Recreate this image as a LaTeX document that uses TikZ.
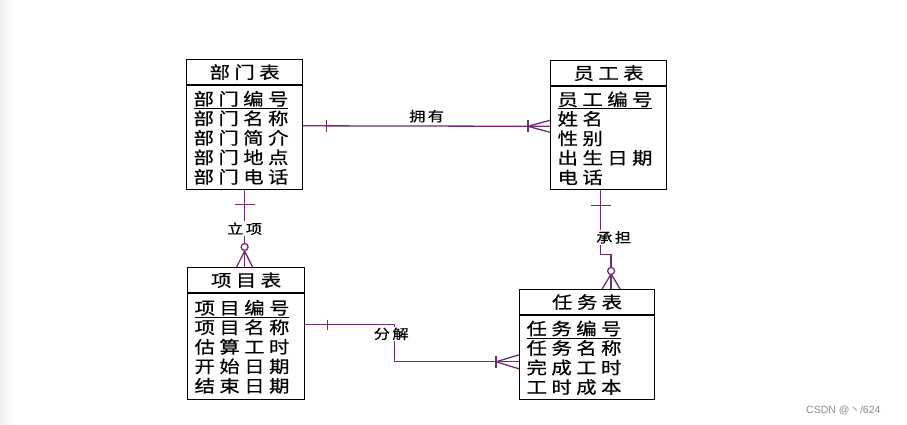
\documentclass[tikz,border=0pt]{standalone}
\usepackage{fontspec}
\setmainfont{Noto Sans CJK SC}
\newfontfamily\tabfont{Noto Sans CJK SC}[FakeStretch=1.2,LetterSpace=26,FakeBold=0.5]
\newfontfamily\labfont{Noto Sans CJK SC}[FakeStretch=1.2,LetterSpace=18,FakeBold=0.5]
\newfontfamily\markfont{Liberation Sans}
\newfontfamily\cjk{Noto Sans CJK SC}
\usetikzlibrary{positioning,calc}
\definecolor{relcol}{RGB}{112,45,112}

\begin{document}
\begin{tikzpicture}[x=1pt,y=-1pt,
	thead/.style={draw,line width=1.2pt,minimum width=#1,minimum height=25pt,inner sep=0pt,font=\tabfont\fontsize{17}{19.5}\selectfont},
	tbody/.style={draw,line width=1.2pt,text width=#1,inner xsep=7pt,align=left,font=\tabfont\fontsize{17}{19.5}\selectfont},
	rel/.style={draw=relcol,line width=1.3pt},
	rlab/.style={fill=white,inner sep=1pt,font=\labfont\fontsize{13.5}{15}\selectfont}]
\useasboundingbox (0,0) rectangle (907,424);
\shade[left color=black!6,right color=white] (0,0) rectangle (14,424);

% tables
\node[thead=116pt,anchor=north west] (dept) at (186,59) {部门表};
\node[tbody=102pt,minimum height=104pt,below=0pt of dept] (deptb) {\underline{部门编号}\\部门名称\\部门简介\\部门地点\\部门电话};
\node[thead=116pt,anchor=north west] (emp) at (550,60) {员工表};
\node[tbody=102pt,minimum height=103pt,below=0pt of emp] (empb) {\underline{员工编号}\\姓名\\性别\\出生日期\\电话};
\node[thead=117pt,anchor=north west] (proj) at (187,267) {项目表};
\node[tbody=103pt,minimum height=106pt,below=0pt of proj] (projb) {\underline{项目编号}\\项目名称\\估算工时\\开始日期\\结束日期};
\node[thead=135pt,anchor=north west] (task) at (519,289) {任务表};
\node[tbody=121pt,minimum height=84pt,below=0pt of task] (taskb) {\underline{任务编号}\\任务名称\\完成工时\\工时成本};

% 拥有
\coordinate (o1) at ([yshift=12pt]deptb.east);
\coordinate (o2) at ([yshift=12pt]empb.west);
\draw[rel] (o1) -- node[rlab,above=2pt] (own) {拥有} (o2);
\draw[rel] ([xshift=23pt]o1) ++(0,-6) -- ++(0,12);
\draw[rel] ([xshift=-22pt]o2) ++(0,-6) -- ++(0,12);
\draw[rel] ([xshift=-22pt]o2) -- ([yshift=6pt]o2) ([xshift=-22pt]o2) -- ([yshift=-6pt]o2);

% 立项
\coordinate (l1) at (deptb.south);
\coordinate (l2) at (deptb.south |- proj.north);
\draw[rel] (l1) -- node[rlab] (launch) {立项} (l2);
\draw[rel] ([yshift=-14pt]l1) ++(-10,0) -- ++(20,0);
\draw[rel] ([yshift=16pt]l2) -- ([xshift=-8pt]l2) ([yshift=16pt]l2) -- ([xshift=8pt]l2);
\draw[rel,fill=white] ([yshift=20pt]l2) circle (3.5pt);

% 承担
\coordinate (c1) at ([xshift=-8pt]empb.south);
\coordinate (c3) at ([xshift=24pt]task.north);
\draw[rel] (c1) -- ++(0,64) coordinate (c2) -| (c3);
\node[rlab] (bear) at ($(c1)+(13,47)$) {承担};
\draw[rel] ([yshift=-15pt]c1) ++(-10,0) -- ++(20,0);
\draw[rel] ([yshift=15pt]c3) -- ([xshift=-9pt]c3) ([yshift=15pt]c3) -- ([xshift=9pt]c3);
\draw[rel,fill=white] ([yshift=18pt]c3) circle (3.5pt);

% 分解
\coordinate (d1) at ([yshift=22pt]projb.east);
\coordinate (d3) at ([yshift=-4pt]taskb.west);
\draw[rel] (d1) -- ++(89,0) coordinate (d2) -- (d2 |- d3) -- (d3);
\node[rlab] (split) at ($(d2)+(-3,9)$) {分解};
\draw[rel] ([xshift=22pt]d1) ++(0,-5) -- ++(0,10);
\draw[rel] ([xshift=-23pt]d3) ++(0,-6) -- ++(0,12);
\draw[rel] ([xshift=-23pt]d3) -- ([yshift=7pt]d3) ([xshift=-23pt]d3) -- ([yshift=-7pt]d3);

\node[anchor=east,text=black!45,font=\markfont\fontsize{10.5}{12}\selectfont] (mark) at (884,410) {CSDN @{\cjk 丶}/624};
\end{tikzpicture}
\end{document}
